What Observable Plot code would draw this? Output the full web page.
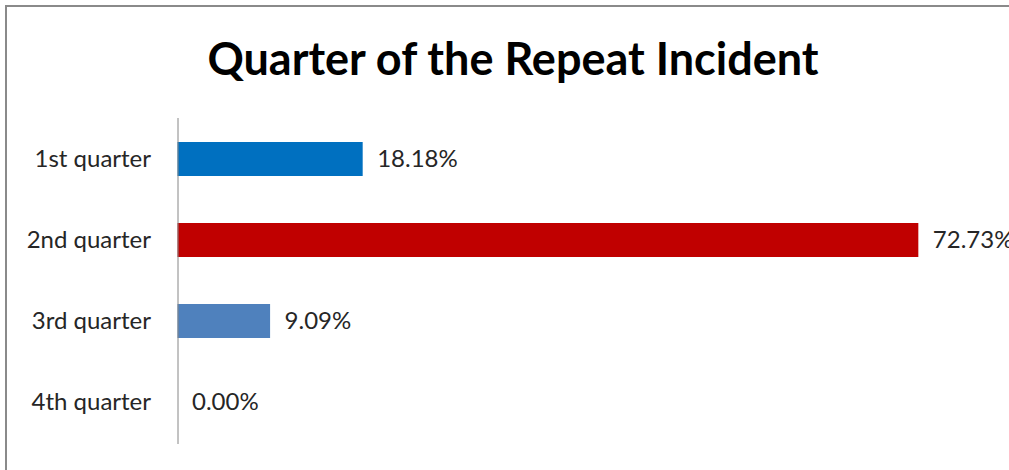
<!DOCTYPE html>
<html>
<head>
<meta charset="utf-8">
<script src="https://cdn.jsdelivr.net/npm/d3@7"></script>
<script src="https://cdn.jsdelivr.net/npm/@observablehq/plot@0.6"></script>
<style>
  html, body { margin: 0; padding: 0; background: #fff; overflow: hidden; }
  #frame { position: absolute; left: 5px; top: 5px; width: 1100px; height: 600px;
           border-left: 2px solid #8a8a8a; border-top: 2px solid #8a8a8a; }
  #title { position: absolute; left: 0; top: 28px; width: 1026px; text-align: center;
           font-family: Lato, sans-serif; font-weight: bold; font-size: 45px; color: #000; line-height: 60px; }
  #chart { position: absolute; left: 0; top: 100px; }
</style>
</head>
<body>
<div id="frame"></div>
<div id="title">Quarter of the Repeat Incident</div>
<div id="chart"></div>
<script>
const categories = ["1st quarter", "2nd quarter", "3rd quarter", "4th quarter"];
const values = [18.18, 72.73, 9.09, 0.00];
const labels = ["18.18%", "72.73%", "9.09%", "0.00%"];
const colors = ["#0070C0", "#C00000", "#4F81BD", "#4F81BD"];

const data = categories.map((c, i) => ({category: c, value: values[i], label: labels[i], color: colors[i]}));

const chart = Plot.plot({
  width: 1009,
  height: 370,
  marginTop: 18,
  marginBottom: 26,
  marginLeft: 177.5,
  marginRight: 0,
  style: {fontFamily: "Lato, sans-serif", fontSize: "24px", color: "#262626", background: "transparent"},
  x: {domain: [0, 80], range: [177.5, 177.5 + 80 * 10.186], axis: null},
  y: {domain: categories, paddingInner: 0.58, paddingOuter: 0.29, label: null, tickSize: 0, tickPadding: 27},
  marks: [
    Plot.barX(data, {x: "value", y: "category", fill: "color"}),
    Plot.text(data, {x: "value", y: "category", text: "label", textAnchor: "start", dx: 14, fill: "#262626", fontSize: 24}),
    Plot.ruleX([0], {stroke: "#868686", strokeWidth: 1})
  ]
});
document.getElementById("chart").appendChild(chart);
</script>
</body>
</html>
